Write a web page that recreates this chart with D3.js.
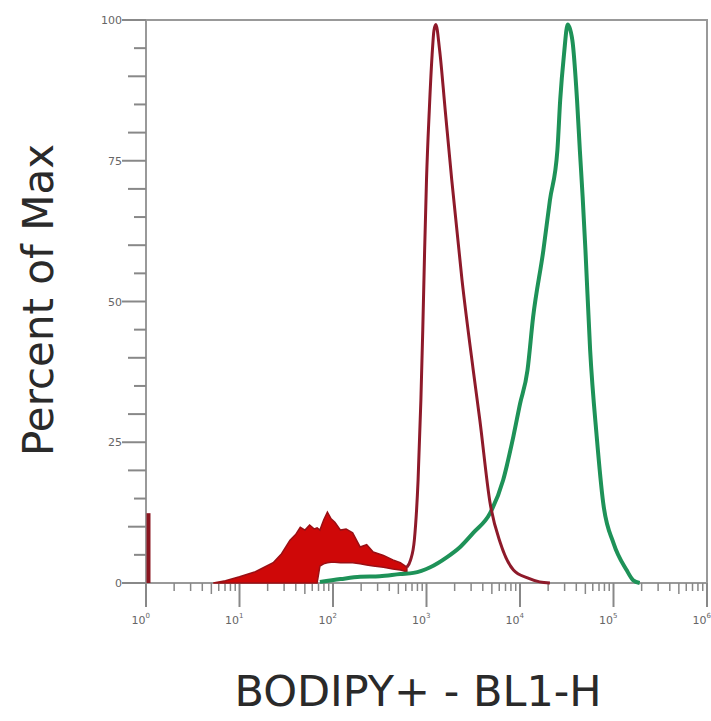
<!DOCTYPE html>
<html>
<head>
<meta charset="utf-8">
<script src="https://cdn.jsdelivr.net/npm/d3@7"></script>
<style>
  body { margin: 0; background: #fff; }
  svg { display: block; font-family: 'DejaVu Sans', Verdana, sans-serif; }
</style>
</head>
<body>
<div id="chart"></div>
<script>
// red sample: noisy low part (log10 position, upper and lower envelope in % of max)
var redNoiseX  = [0.72, 0.85, 1.0, 1.17, 1.36, 1.45, 1.54, 1.6, 1.65, 1.7, 1.75, 1.8, 1.83, 1.86, 1.9, 1.94, 1.98, 2.02, 2.08, 2.14, 2.21, 2.29, 2.36, 2.43, 2.54, 2.64, 2.72, 2.79]
var redNoiseHi = [0, 0.4, 1.1, 2.0, 3.6, 5.2, 7.6, 8.6, 9.9, 9.4, 10.3, 9.6, 9.8, 9.4, 11.2, 12.6, 11.4, 10.8, 9.4, 9.6, 8.9, 6.4, 6.8, 5.5, 4.9, 4.1, 3.6, 2.8]
var redNoiseLo = [0, 0, 0, 0, 0, 0, 0, 0, 0, 0, 0, 0, 0, 3.0, 3.4, 3.6, 3.7, 3.7, 3.6, 3.6, 3.6, 3.4, 3.2, 3.0, 2.8, 2.5, 2.3, 2.0]

// red sample: main peak outline
var redPeakX = [2.79, 2.83, 2.87, 2.91, 2.94, 2.96, 2.98, 3.0, 3.03, 3.06, 3.08, 3.1, 3.14, 3.2, 3.27, 3.38, 3.5, 3.57, 3.68, 3.79, 3.93, 4.08, 4.21, 4.32]
var redPeakY = [2.8, 4.1, 7.6, 18.3, 32.5, 44.9, 59.1, 71.6, 84.0, 93.8, 98.2, 99.2, 94.7, 84.0, 71.6, 53.8, 37.8, 29.0, 14.2, 7.1, 2.3, 0.9, 0.2, 0]

// red pile-up at the bottom of the scale
var redSpike = 12.4

// green sample
var greenX = [1.86, 2.08, 2.29, 2.5, 2.72, 2.86, 3.04, 3.22, 3.36, 3.5, 3.68, 3.82, 3.93, 4.0, 4.08, 4.14, 4.25, 4.32, 4.4, 4.43, 4.47, 4.51, 4.56, 4.61, 4.64, 4.67, 4.7, 4.75, 4.82, 4.89, 5.0, 5.14, 5.21, 5.28]
var greenY = [0.2, 0.7, 1.1, 1.2, 1.6, 1.8, 2.8, 4.6, 6.4, 8.9, 12.4, 18.3, 26.1, 31.8, 37.8, 47.2, 59.1, 68.0, 76.9, 85.8, 93.8, 99.2, 96.4, 85.8, 76.9, 68.6, 59.1, 41.4, 26.1, 14.2, 7.1, 2.3, 0.5, 0]

var decades = [0, 1, 2, 3, 4, 5, 6]
var yMajor = [0, 25, 50, 75, 100]

var width = 711
var height = 721
var margin = {top: 20, right: 4, bottom: 138, left: 146}

var svg = d3.select('#chart')
  .append('svg')
  .attr('width', width)
  .attr('height', height)

var x = d3.scaleLog().domain([1, 1e6]).range([margin.left, width - margin.right])
var y = d3.scaleLinear().domain([0, 100]).range([height - margin.bottom, margin.top])

var px = function (d) { return x(Math.pow(10, d)) }

// frame
svg.append('rect')
  .attr('x', x(1))
  .attr('y', y(100))
  .attr('width', x(1e6) - x(1))
  .attr('height', y(0) - y(100))
  .attr('fill', 'none')
  .attr('stroke', '#999')
  .attr('stroke-width', 2)

// y ticks: every 5, longer every 10 and 25
var yTicks = d3.range(0, 101, 5)
svg.selectAll('.ytick')
  .data(yTicks)
  .enter()
  .append('line')
  .attr('class', 'ytick')
  .attr('x1', x(1))
  .attr('x2', function (d) {
    if (d % 25 === 0) return x(1) - 24
    if (d % 10 === 0) return x(1) - 18
    return x(1) - 12
  })
  .attr('y1', d => y(d))
  .attr('y2', d => y(d))
  .attr('stroke', '#888')
  .attr('stroke-width', 2)

svg.selectAll('.ylabel')
  .data(yMajor)
  .enter()
  .append('text')
  .attr('class', 'ylabel')
  .attr('x', x(1) - 24)
  .attr('y', d => y(d) + 4)
  .attr('text-anchor', 'end')
  .attr('font-size', 11)
  .attr('fill', '#666')
  .text(d => d)

// x ticks: log minor ticks below the axis
var xMinor = []
decades.slice(0, -1).forEach(function (k) {
  for (var m = 2; m < 10; m++) xMinor.push(m * Math.pow(10, k))
})
svg.selectAll('.xminor')
  .data(xMinor)
  .enter()
  .append('line')
  .attr('class', 'xminor')
  .attr('x1', d => x(d))
  .attr('x2', d => x(d))
  .attr('y1', y(0))
  .attr('y2', d => y(0) + (Math.round(d / Math.pow(10, Math.floor(Math.log10(d) + 1e-9))) === 5 ? 11 : 8))
  .attr('stroke', '#888')
  .attr('stroke-width', 1.5)

svg.selectAll('.xmajor')
  .data(decades)
  .enter()
  .append('line')
  .attr('class', 'xmajor')
  .attr('x1', d => px(d))
  .attr('x2', d => px(d))
  .attr('y1', y(0))
  .attr('y2', y(0) + 24)
  .attr('stroke', '#888')
  .attr('stroke-width', 2)

var xl = svg.selectAll('.xlabel')
  .data(decades)
  .enter()
  .append('text')
  .attr('class', 'xlabel')
  .attr('x', d => px(d) + 4)
  .attr('y', y(0) + 41)
  .attr('text-anchor', 'end')
  .attr('font-size', 11)
  .attr('fill', '#666')
xl.append('tspan').text('10')
xl.append('tspan').attr('dy', -6).attr('font-size', 7).text(d => d)

// red noisy region
var redNoise = redNoiseX.map((d, i) => ({x: d, hi: redNoiseHi[i], lo: redNoiseLo[i]}))
svg.append('path')
  .datum(redNoise)
  .attr('d', d3.area().x(d => px(d.x)).y0(d => y(d.lo)).y1(d => y(d.hi)))
  .attr('fill', '#cf0808')
  .attr('stroke', '#9a0f14')
  .attr('stroke-width', 1.5)

// red spike at the bottom of scale
svg.append('line')
  .attr('x1', x(1) + 2.5)
  .attr('x2', x(1) + 2.5)
  .attr('y1', y(0))
  .attr('y2', y(redSpike))
  .attr('stroke', '#8a1620')
  .attr('stroke-width', 4)

// green histogram
var greenData = greenX.map((d, i) => ({x: d, v: greenY[i]}))
svg.append('path')
  .datum(greenData)
  .attr('d', d3.line().x(d => px(d.x)).y(d => y(d.v)).curve(d3.curveMonotoneX))
  .attr('fill', 'none')
  .attr('stroke', '#1e9258')
  .attr('stroke-width', 4)

// red main peak
var redData = redPeakX.map((d, i) => ({x: d, v: redPeakY[i]}))
svg.append('path')
  .datum(redData)
  .attr('d', d3.line().x(d => px(d.x)).y(d => y(d.v)).curve(d3.curveMonotoneX))
  .attr('fill', 'none')
  .attr('stroke', '#8e1a2a')
  .attr('stroke-width', 3)

// axis titles
svg.append('text')
  .attr('x', 418)
  .attr('y', 706)
  .attr('text-anchor', 'middle')
  .attr('font-size', 43)
  .attr('fill', '#2a2a2a')
  .text('BODIPY+ - BL1-H')

svg.append('text')
  .attr('transform', 'translate(53,300) rotate(-90)')
  .attr('text-anchor', 'middle')
  .attr('font-size', 42)
  .attr('fill', '#2a2a2a')
  .text('Percent of Max')
</script>
</body>
</html>
